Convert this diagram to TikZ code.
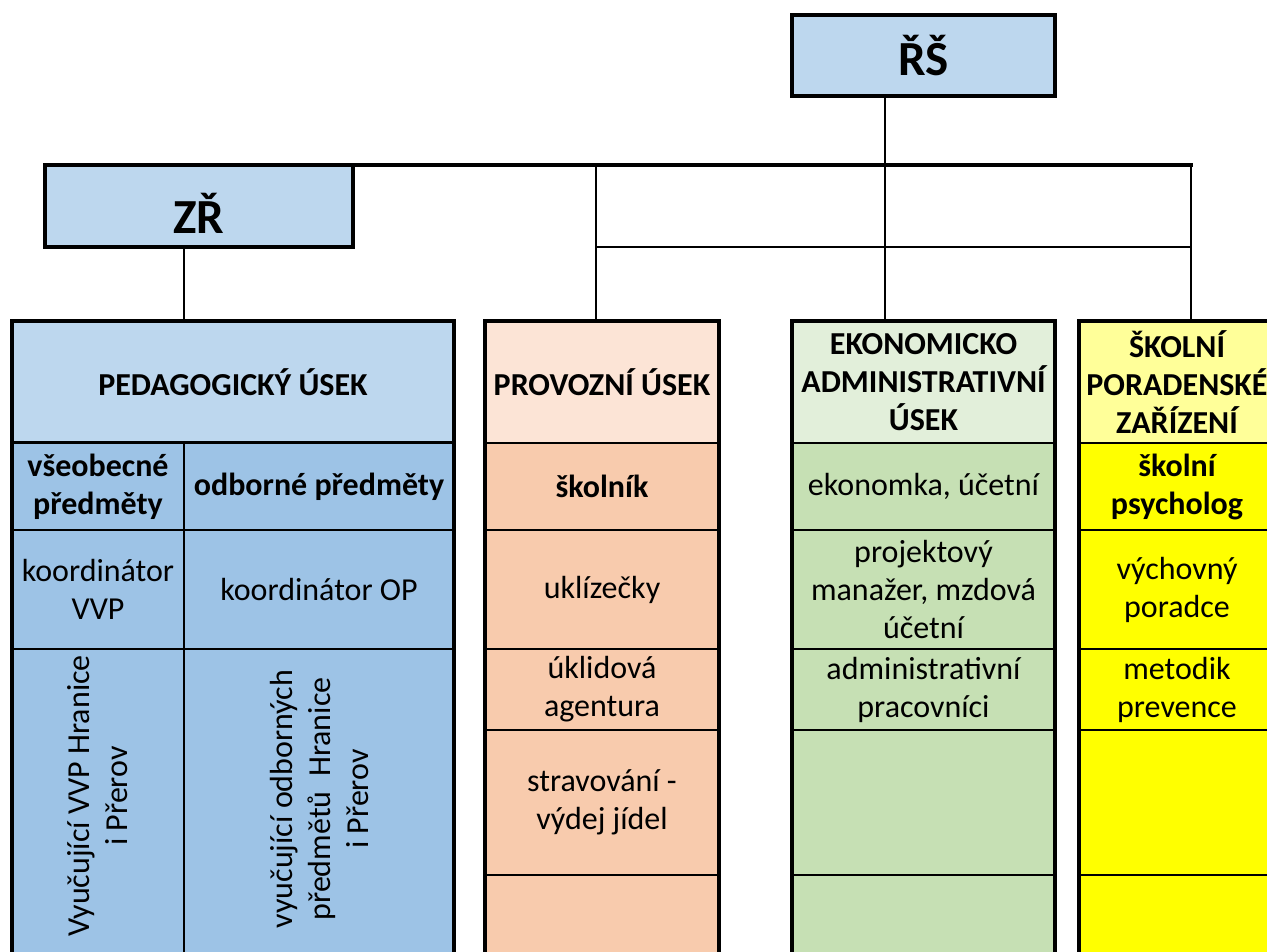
\documentclass[tikz,border=0pt]{standalone}
\usepackage{fontspec}
\setmainfont{Carlito}
\definecolor{pedhead}{HTML}{BDD7EE}
\definecolor{pedcell}{HTML}{9DC3E6}
\definecolor{provhead}{HTML}{FCE4D6}
\definecolor{provcell}{HTML}{F8CBAD}
\definecolor{ekohead}{HTML}{E2EFDA}
\definecolor{ekocell}{HTML}{C6E0B4}
\definecolor{spzhead}{HTML}{FFFF99}
\definecolor{spzcell}{HTML}{FFFF00}
\tikzset{
  chief/.style={draw, line width=4pt, fill=pedhead, inner sep=0pt, outer sep=0pt,
    font=\bfseries\fontsize{49}{54}\selectfont},
  cell/.style={draw, line width=1.5pt, anchor=north west, inner sep=0pt, outer sep=0pt,
    align=center, font=\fontsize{32}{38}\selectfont},
  head/.style={cell, font=\bfseries\fontsize{32}{38}\selectfont},
  frame/.style={draw, line width=4pt},
  link/.style={line width=2.5pt},
}
\begin{document}
\begin{tikzpicture}[x=1pt, y=-1pt]
\useasboundingbox (0,0) rectangle (1267,951);
\clip (0,0) rectangle (1267,951);
% top boxes
\node[chief, minimum width=263, minimum height=81] (rs) at (923.5,55.5) {ŘŠ};
\node[chief, minimum width=308, minimum height=82, text height=54pt, text depth=0pt] (zr) at (199,206) {ZŘ};
% pedagogicky usek
\node[head, fill=pedhead, line width=4pt, minimum width=442, minimum height=122] (ped) at (12,321) {PEDAGOGICKÝ ÚSEK};
\node[head, fill=pedcell, minimum width=172, minimum height=87] (vse) at (12,443) {všeobecné\\předměty};
\node[head, fill=pedcell, minimum width=270, minimum height=87] (odb) at (184,443) {odborné předměty};
\node[cell, fill=pedcell, minimum width=172, minimum height=119] (koorV) at (12,530) {koordinátor\\VVP};
\node[cell, fill=pedcell, minimum width=270, minimum height=119] (koorO) at (184,530) {koordinátor OP};
\node[cell, fill=pedcell, minimum width=172, minimum height=306] (vyuV) at (12,649) {};
\node[cell, fill=pedcell, minimum width=270, minimum height=306] (vyuO) at (184,649) {};
\node[rotate=90, align=center, font=\fontsize{32}{38}\selectfont, xshift=6] at (vyuV.center) {Vyučující VVP Hranice\\i Přerov};
\node[rotate=90, align=center, font=\fontsize{32}{38}\selectfont, xshift=3] at (vyuO.center) {vyučující odborných\\předmětů\ \ Hranice\\i Přerov};
\draw[frame] (ped.north west) rectangle (vyuO.south east);
% provozni usek
\node[head, fill=provhead, minimum width=234, minimum height=122] (prov) at (485,321) {PROVOZNÍ ÚSEK};
\node[head, fill=provcell, minimum width=234, minimum height=87] (prov1) at (485,443) {školník};
\node[cell, fill=provcell, minimum width=234, minimum height=119] (prov2) at (485,530) {uklízečky};
\node[cell, fill=provcell, minimum width=234, minimum height=81] (prov3) at (485,649) {úklidová\\agentura};
\node[cell, fill=provcell, minimum width=234, minimum height=145] (prov4) at (485,730) {stravování -\\výdej jídel};
\node[cell, fill=provcell, minimum width=234, minimum height=80] (prov5) at (485,875) {};
\draw[frame] (prov.north west) rectangle (prov5.south east);
% ekonomicko administrativni usek
\node[head, fill=ekohead, minimum width=263, minimum height=122] (eko) at (792,321) {EKONOMICKO\\ADMINISTRATIVNÍ\\ÚSEK};
\node[cell, fill=ekocell, minimum width=263, minimum height=87] (eko1) at (792,443) {ekonomka, účetní};
\node[cell, fill=ekocell, minimum width=263, minimum height=119] (eko2) at (792,530) {projektový\\manažer, mzdová\\účetní};
\node[cell, fill=ekocell, minimum width=263, minimum height=81] (eko3) at (792,649) {administrativní\\pracovníci};
\node[cell, fill=ekocell, minimum width=263, minimum height=145] (eko4) at (792,730) {};
\node[cell, fill=ekocell, minimum width=263, minimum height=80] (eko5) at (792,875) {};
\draw[frame] (eko.north west) rectangle (eko5.south east);
% skolni poradenske zarizeni
\node[head, fill=spzhead, minimum width=196, minimum height=122] (spz) at (1079,321) {ŠKOLNÍ\\PORADENSKÉ\\ZAŘÍZENÍ};
\node[head, fill=spzcell, minimum width=196, minimum height=87] (spz1) at (1079,443) {školní\\psycholog};
\node[cell, fill=spzcell, minimum width=196, minimum height=119] (spz2) at (1079,530) {výchovný\\poradce};
\node[cell, fill=spzcell, minimum width=196, minimum height=81] (spz3) at (1079,649) {metodik\\prevence};
\node[cell, fill=spzcell, minimum width=196, minimum height=145] (spz4) at (1079,730) {};
\node[cell, fill=spzcell, minimum width=196, minimum height=80] (spz5) at (1079,875) {};
\draw[frame] (spz.north west) rectangle (spz5.south east);
% connectors
\coordinate (hub) at (885,165);
\coordinate (tP) at (596,165);
\coordinate (tS) at (1191,165);
\draw[link] (rs.south -| hub) -- (hub);
\draw[link] (tP) -- (tP |- prov.north);
\draw[link] (hub) -- (hub |- eko.north);
\draw[link] (tS) -- (tS |- spz.north);
\draw[link] (tP |- zr.south) -- (tS |- zr.south);
\draw[link] (zr.south -| vse.east) -- (ped.north -| vse.east);
\draw[line width=4pt, line cap=rect] (zr.north west) -- (tS |- zr.north west);
\end{tikzpicture}
\end{document}
